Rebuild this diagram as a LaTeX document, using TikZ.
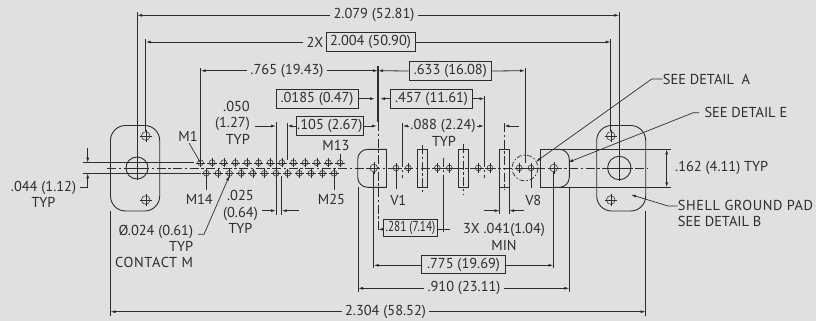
\documentclass[tikz,border=0pt]{standalone}
\usepackage{fontspec}
\setmainfont{PT Sans}
\usetikzlibrary{arrows.meta}
\definecolor{bgc}{RGB}{223,224,226}
\definecolor{ink}{RGB}{45,45,47}
\tikzset{
  lbl/.style={inner sep=0pt,text=ink,font=\fontsize{14.4}{16.2}\selectfont},
  boxed/.style={lbl,draw=ink,line width=.9pt,minimum height=#1,align=center},
  dim/.style={draw=ink,line width=.8pt},
  ext/.style={draw=ink,line width=.8pt},
  thin part/.style={draw=ink,line width=.7pt},
  ctr/.style={draw=ink,line width=.7pt,dash pattern=on 9pt off 2.5pt on 2.5pt off 2.5pt},
  tip/.style={-{Latex[length=5pt,width=3pt]}},
  tips/.style={{Latex[length=5pt,width=3pt]}-{Latex[length=5pt,width=3pt]}}
}
\newcommand{\pinmark}[3]{%
  \draw[thin part,line width=.55pt] (#1,#2) circle (#3);
  \draw[thin part,line width=.4pt] ({#1-#3-1.8},#2) -- ({#1+#3+1.8},#2) ({#1},{#2-#3-1.8}) -- ({#1},{#2+#3+1.8});
}
\begin{document}
\begin{tikzpicture}[x=1pt,y=-1pt]
\useasboundingbox[fill=bgc] (0,0) rectangle (816,321);
% centre line
\draw[ctr] (107,168) -- (648,168);
% left flange
\draw[thin part,line width=.9pt,rounded corners=15pt] (110.5,125.5) rectangle (159.7,211);
\draw[thin part,line width=.9pt] (137,168) circle (11);
\draw[thin part] (125,168)--(149,168) (137,156)--(137,180);
\pinmark{145.7}{136}{4.3}
\pinmark{145.7}{200}{4.3}
% right flange
\draw[thin part,line width=.9pt,rounded corners=15pt] (596.7,125.5) rectangle (645.7,211);
\draw[thin part,line width=.9pt] (619.3,168) circle (11.7);
\draw[thin part] (607,168)--(632,168) (619.3,155)--(619.3,181);
\pinmark{610.7}{136}{4.3}
\pinmark{610.7}{200}{4.3}
% shell ends
\draw[thin part,line width=.9pt,rounded corners=10pt] (386.7,149.3) -- (357.7,149.3) -- (357.7,187.3) -- (386.7,187.3);
\draw[thin part,line width=.9pt] (386.7,148.9) -- (386.7,187.7);
\draw[thin part,line width=.9pt] (670.7,149.3) -- (540.7,149.3) -- (540.7,187.3) -- (670.7,187.3);
\draw[thin part,line width=.9pt,rounded corners=10pt] (555,149.3) -- (569.3,149.3) -- (569.3,187.3) -- (555,187.3);
\pinmark{373.8}{168}{3.8}
\pinmark{553.7}{168}{3.8}
% contacts
\foreach \i in {0,...,12} {\pgfmathsetmacro{\cx}{200.5+11.62*\i}\pinmark{\cx}{162.7}{2.9}}
\foreach \i in {0,...,11} {\pgfmathsetmacro{\cx}{206.3+11.62*\i}\pinmark{\cx}{173.3}{2.9}}
\foreach \cx in {396,408.3,437.3,449.3,478.3,490,519.3,531} {\pinmark{\cx}{168}{2.9}}
% blade rectangles
\foreach \cx in {422.3,463.3,504.3} {
  \draw[thin part,line width=.9pt] ({\cx-4.8},149.3) rectangle ({\cx+4.8},187.3);
}
\draw[ctr] (422.3,145) -- (422.3,194);
\draw[ctr] (463.3,144) -- (463.3,194);
\draw[ctr] (504.3,123) -- (504.3,190);
\draw[ctr] (402.7,158) -- (402.7,178);
\draw[ctr] (443.5,158) -- (443.5,180);
\draw[ctr] (484,158) -- (484,178);
\draw[draw=ink,line width=.7pt,dash pattern=on 5pt off 2pt on 1.5pt off 2pt] (525,168) circle (13);
% 2.079
\node[lbl] (a2079) at (374,15.3) {2.079 (52.81)};
\coordinate (a2079L) at (137,15.3);
\coordinate (a2079R) at (619.3,15.3);
\draw[dim,tip] (a2079.west)++(-3,0) -- (a2079L);
\draw[dim,tip] (a2079.east)++(3,0) -- (a2079R);
\draw[ext] (137,12) -- (137,157);
\draw[ext] (619.3,12) -- (619.3,156);
% 2X 2.004
\node[boxed=19pt,minimum width=89pt] (b2004) at (370.5,42) {2.004 (50.90)};
\node[lbl,anchor=east] (b2x) at (323.5,42) {2X};
\coordinate (b2004L) at (145.7,42);
\coordinate (b2004R) at (610.7,42);
\draw[dim,tip] (b2x.west)++(-3,0) -- (b2004L);
\draw[dim,tip] (b2004.east) -- (b2004R);
\draw[ext] (145.7,39) -- (145.7,131);
\draw[ext] (610.7,39) -- (610.7,131);
% .765 and .633
\node[lbl] (c765) at (287,70.7) {.765 (19.43)};
\coordinate (c765L) at (200.7,70.7);
\coordinate (c765R) at (378,70.7);
\draw[dim,tip] (c765.west)++(-3,0) -- (c765L);
\draw[dim,tip] (c765.east)++(3,0) -- (c765R);
\node[boxed=18.6pt,minimum width=82.7pt] (d633) at (450.3,71) {.633 (16.08)};
\coordinate (d633L) at (378,70.7);
\coordinate (d633R) at (525,70.7);
\draw[dim,tip] (d633.west) -- (d633L);
\draw[dim,tip] (d633.east) -- (d633R);
\draw[ext] (200.7,68) -- (200.7,160);
\draw[ext] (525,68) -- (525,163);
\draw[ext,line width=1.3pt] (378,66) -- (378,122);
\draw[ctr] (378.3,122) -- (378.3,232);
% .0185 / .457
\node[boxed=19pt,minimum width=82pt] (e0185) at (317,98.7) {.0185 (0.47)};
\node[boxed=19pt,minimum width=81.6pt] (f457) at (431.5,98.7) {.457 (11.61)};
\coordinate (e0185R) at (375,98.7);
\coordinate (f457L) at (380,98.7);
\coordinate (f457R) at (484.5,98.7);
\draw[dim,tip] (e0185.east) -- (e0185R);
\draw[dim,tip] (f457.west) -- (f457L);
\draw[dim,tip] (f457.east) -- (f457R);
\draw[ext] (484,96) -- (484,158);
% .105
\node[boxed=18.6pt,minimum width=67.7pt] (g105) at (329.8,126) {.105 (2.67)};
\coordinate (g105R) at (377,126);
\coordinate (g105L) at (287.3,126);
\draw[dim,tip] (g105.east) -- (g105R);
\draw[dim,tip] (g105.west) -- (g105L);
\draw[ext] (287.3,123) -- (287.3,160);
% .050
\node[lbl,align=right,anchor=east] (h050) at (250,122.7) {.050\\(1.27)\\TYP};
\coordinate (h050R) at (276,126);
\coordinate (h050S) at (255,126);
\draw[dim,tip] (h050S) -- (h050R);
\draw[ext] (276,122) -- (276,214.5);
% .025
\node[lbl,align=center,anchor=east] (i025) at (258,212) {.025\\(0.64)\\TYP};
\coordinate (i025A) at (276,210.7);
\coordinate (i025B) at (281.7,210.7);
\coordinate (i025C) at (262,210.7);
\coordinate (i025D) at (299,210.7);
\draw[dim,tip] (i025C) -- (i025A);
\draw[dim,tip] (i025D) -- (i025B);
\draw[ext] (281.7,176) -- (281.7,214.5);
% .088
\node[lbl] (j088) at (443,126) {.088 (2.24)};
\node[lbl] (j088t) at (444,141.7) {TYP};
\coordinate (j088L) at (402.7,126);
\coordinate (j088R) at (484,126);
\draw[dim,tip] (j088.west)++(-1,0) -- (j088L);
\draw[dim,tip] (j088.east)++(1,0) -- (j088R);
\draw[ext] (402.7,123) -- (402.7,158);
\coordinate (k504) at (504.3,126);
\coordinate (k519) at (519,126);
\draw[dim,tip] (k519) -- (k504);
% labels M
\node[lbl] (m1) at (188,136.7) {M1};
\node[lbl] (m13) at (336,145) {M13};
\node[lbl] (m14) at (199.3,199.3) {M14};
\node[lbl] (m25) at (331.5,199.3) {M25};
\node[lbl] (v1) at (398.3,200) {V1};
\node[lbl] (v8) at (533.3,200) {V8};
\draw[thin part] (m1.south)++(1,1) -- (200.5,162.7);
\draw[thin part] (340,153.5) -- (340,162.7);
\draw[thin part] (206.3,173.3) -- (206.3,190);
\draw[thin part] (334,173.3) -- (334,190);
\draw[thin part] (396,168) -- (396,189);
\draw[thin part] (531,168) -- (531,188);
% .044
\node[lbl,align=center,anchor=north] (n044) at (43.5,181) {.044 (1.12)\\TYP};
\coordinate (n044T) at (87.7,148);
\coordinate (n044U) at (87.7,162.7);
\coordinate (n044D) at (87.7,173.3);
\draw[dim,tip] (n044T) -- (n044U);
\draw[dim,tip] (n044.east |- 0,187.7) ++(4,0) -- (87.7,187.7) -- (n044D);
\draw[ext] (83,162.7) -- (194,162.7);
\draw[ext] (83,173.3) -- (201,173.3);
% dia .024
\node[lbl,align=right,anchor=north east] (o024) at (193.3,225) {Ø.024 (0.61)\\TYP\\{\addfontfeature{LetterSpace=4.5}CONTACT M}};
\coordinate (o024A) at (229.5,175.5);
\draw[thin part,tip] (198,234.3) -- (204,234.3) -- (o024A);
% .281
\node[boxed=16.7pt,minimum width=54.4pt] (p281) at (410.5,227.7) {\scalebox{.78}[1]{.281 (7.14)}};
\coordinate (p281L) at (378.3,229.3);
\coordinate (p281R) at (443.5,229.3);
\draw[dim,tip] (p281.west |- 0,229.3) -- (p281L);
\draw[dim] (p281.east |- 0,229.3) -- (p281R) -- (449.5,229.3);
\draw[ext] (443.5,180) -- (443.5,232);
% 3X .041
\node[lbl,align=center] (q041) at (504,237) {3X .041(1.04)\\MIN};
\coordinate (q041L) at (499.7,210.7);
\coordinate (q041R) at (509,210.7);
\draw[dim,tip] (484,210.7) -- (q041L);
\draw[dim,tip] (524,210.7) -- (q041R);
\draw[ext] (499.7,187.3) -- (499.7,214);
\draw[ext] (509,187.3) -- (509,214);
% .775
\node[boxed=17.6pt,minimum width=84.4pt] (r775) at (463.5,264.5) {.775 (19.69)};
\coordinate (r775L) at (373.7,265.3);
\coordinate (r775R) at (553.5,265.3);
\draw[dim,tip] (r775.west |- 0,265.3) -- (r775L);
\draw[dim,tip] (r775.east |- 0,265.3) -- (r775R);
\draw[ext] (373.7,172) -- (373.7,268);
\draw[ext] (553.5,172) -- (553.5,268);
% .910
\node[lbl] (s910) at (464,288.3) {.910 (23.11)};
\coordinate (s910L) at (358,288.3);
\coordinate (s910R) at (569.3,288.3);
\draw[dim,tip] (s910.west)++(-3,0) -- (s910L);
\draw[dim,tip] (s910.east)++(3,0) -- (s910R);
\draw[ext] (358,187.3) -- (358,292);
\draw[ext] (569.3,187.3) -- (569.3,292);
% 2.304
\node[lbl] (t2304) at (385.5,311.7) {2.304 (58.52)};
\coordinate (t2304L) at (110.5,311.7);
\coordinate (t2304R) at (645.7,311.7);
\draw[dim,tip] (t2304.west)++(-3,0) -- (t2304L);
\draw[dim,tip] (t2304.east)++(3,0) -- (t2304R);
\draw[ext] (110.5,211) -- (110.5,315.5);
\draw[ext] (645.7,211) -- (645.7,315.5);
% .162
\node[lbl,anchor=west] (u162) at (675,168) {.162 (4.11) TYP};
\coordinate (u162T) at (666.7,149.3);
\coordinate (u162B) at (666.7,187.3);
\draw[dim,tips] (u162T) -- (u162B);
% callouts
\node[lbl,anchor=west] (dA) at (662.7,79) {SEE DETAIL~~A};
\coordinate (dAt) at (536,161.7);
\draw[thin part,tip] (dA.west) -- (651.7,79) -- (dAt);
\node[lbl,anchor=west] (dE) at (704.3,112.7) {SEE DETAIL E};
\coordinate (dEt) at (568.3,162.3);
\draw[thin part,tip] (699,112.7) -- (693.3,112.7) -- (dEt);
\node[lbl,anchor=west,align=left] (dB) at (677.7,213.7) {{\addfontfeature{LetterSpace=4}SHELL GROUND PAD}\\SEE DETAIL B};
\coordinate (dBt) at (631,194.7);
\draw[thin part,tip] (dB.west |- 0,206) -- (668,206) -- (dBt);
\end{tikzpicture}
\end{document}
